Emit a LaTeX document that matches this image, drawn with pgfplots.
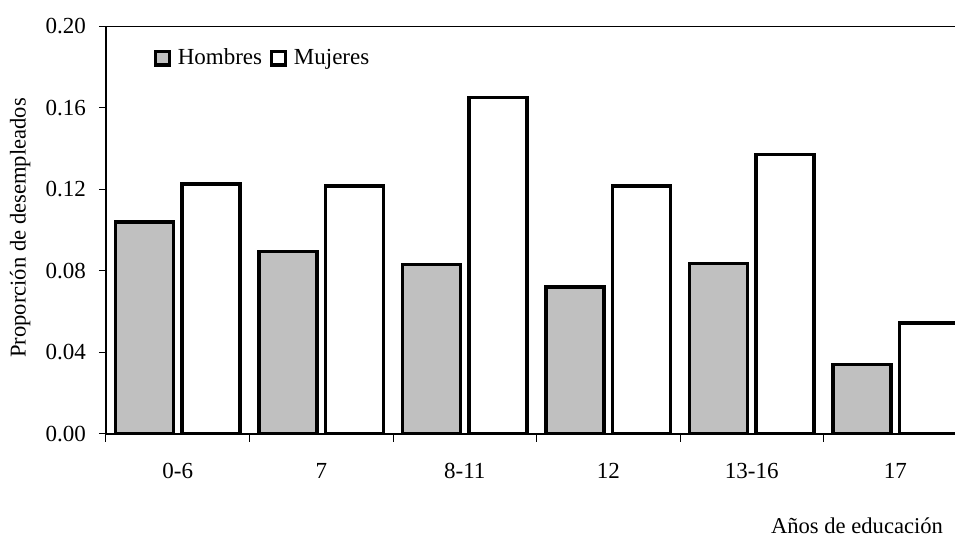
\documentclass[border=0pt]{standalone}
\usepackage{pgfplots}
\pgfplotsset{compat=1.18}
\usepackage{fontspec}
\setmainfont{Liberation Serif}
\definecolor{barGray}{HTML}{C0C0C0}
\pgfplotstableread{
x hombres mujeres
0 0.1040 0.1225
1 0.0895 0.1215
2 0.0830 0.1650
3 0.0720 0.1215
4 0.0835 0.1370
5 0.0340 0.0545
}\datatable
\begin{document}
\begin{tikzpicture}
\begin{axis}[
  at={(0,0)}, anchor=south west,
  scale only axis,
  width=424.5pt, height=204pt,
  xmin=-0.5, xmax=5.416,
  ymin=0, ymax=0.20,
  axis x line*=bottom, axis y line*=left,
  axis line style={line width=0.7pt},
  ytick={0,0.04,0.08,0.12,0.16,0.20},
  yticklabel style={/pgf/number format/fixed, /pgf/number format/fixed zerofill, /pgf/number format/precision=2},
  /pgf/number format/assume math mode=true,
  xtick={0,1,2,3,4,5},
  xticklabels={0-6,7,8-11,12,13-16,17},
  minor xtick={-0.5,0.5,1.5,2.5,3.5,4.5},
  major x tick style={draw=none},
  minor tick length=4pt,
  major tick length=3.5pt,
  tick align=outside,
  tick style={line width=0.5pt, black},
  xticklabel style={font=\fontsize{11.5}{13}\selectfont, text height=1.6ex, text depth=0.3ex, yshift=-8pt},
  yticklabel style={font=\fontsize{11.5}{13}\selectfont, xshift=-3pt},
  ylabel={Proporción de desempleados},
  ylabel style={font=\fontsize{11.3}{13}\selectfont, at={(axis description cs:-0.101,0.505)}, anchor=center},
  xlabel={Años de educación},
  xlabel style={font=\fontsize{11.3}{13}\selectfont, at={(axis description cs:0.8846,-0.2255)}, anchor=center},
  ybar, bar width=29pt,
  legend style={draw=none, fill=none, at={(axis description cs:0.049,0.965)}, anchor=north west,
    font=\fontsize{11.5}{13}\selectfont, legend columns=2,
    /tikz/every odd column/.append style={column sep=1.5pt},
    /tikz/every even column/.append style={column sep=2pt}},
  legend image code/.code={\draw[#1, line width=1.6pt] (0pt,-3.4pt) rectangle (6.8pt,3.4pt);},
]
\addplot[fill=barGray, draw=black, line width=1.75pt, bar shift=-16.6pt] table[x=x, y=hombres] {\datatable};
\addplot[fill=white, draw=black, line width=1.75pt, bar shift=16.6pt] table[x=x, y=mujeres] {\datatable};
\legend{Hombres, Mujeres}
\draw[line width=0.7pt] (rel axis cs:0,1) -- (rel axis cs:1,1);
\end{axis}
\pgfresetboundingbox
\useasboundingbox (-53pt,-53.5pt) rectangle (424.5pt,217pt);
\end{tikzpicture}
\end{document}
